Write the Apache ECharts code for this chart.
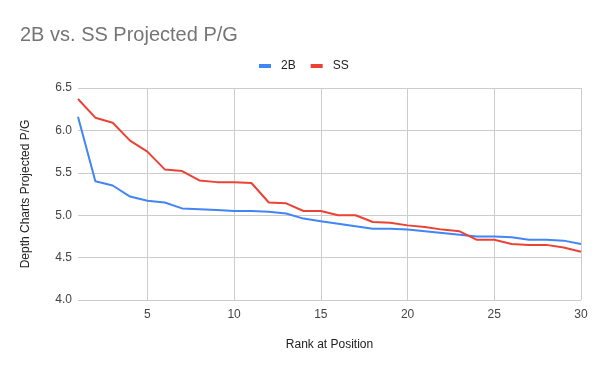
<!DOCTYPE html>
<html>
<head>
<meta charset="utf-8">
<script src="https://cdn.jsdelivr.net/npm/echarts@6/dist/echarts.min.js"></script>
<style>
html,body{margin:0;padding:0;background:#fff;}
#chart{width:600px;height:371px;}
</style>
</head>
<body>
<div id="chart"></div>
<script>
var ranks = [1,2,3,4,5,6,7,8,9,10,11,12,13,14,15,16,17,18,19,20,21,22,23,24,25,26,27,28,29,30];
var series2B = [6.16, 5.40, 5.35, 5.22, 5.17, 5.15, 5.08, 5.07, 5.06, 5.05, 5.05, 5.04, 5.02, 4.96, 4.93, 4.90, 4.87, 4.84, 4.84, 4.83, 4.81, 4.79, 4.77, 4.75, 4.75, 4.74, 4.71, 4.71, 4.70, 4.66];
var seriesSS = [6.37, 6.15, 6.09, 5.88, 5.75, 5.54, 5.52, 5.41, 5.39, 5.39, 5.38, 5.15, 5.14, 5.05, 5.05, 5.00, 5.00, 4.92, 4.91, 4.88, 4.86, 4.83, 4.81, 4.71, 4.71, 4.66, 4.65, 4.65, 4.62, 4.57];
var yTicks = [4.0, 4.5, 5.0, 5.5, 6.0, 6.5];

var chart = echarts.init(document.getElementById('chart'), null, {renderer: 'canvas'});
var font = '"Liberation Sans", Arial, sans-serif';
chart.setOption({
  animation: false,
  backgroundColor: '#ffffff',
  title: {
    text: '2B vs. SS Projected P/G',
    left: 15, top: 20,
    textStyle: {fontFamily: font, fontSize: 20, fontWeight: 'normal', color: '#757575'}
  },
  legend: {
    left: 254, top: 55,
    itemWidth: 12, itemHeight: 4, itemGap: 15,
    icon: 'rect',
    textStyle: {fontFamily: font, fontSize: 12, color: '#222', padding: [0, 0, 0, 5]},
    data: ['2B', 'SS']
  },
  grid: {left: 78, right: 19, top: 88, bottom: 71},
  xAxis: {
    type: 'category',
    data: ranks,
    boundaryGap: false,
    name: 'Rank at Position',
    nameLocation: 'middle',
    nameGap: 39,
    nameTextStyle: {fontFamily: font, fontSize: 12, color: '#222'},
    axisLine: {show: false},
    axisTick: {show: false},
    axisLabel: {
      fontFamily: font, fontSize: 12, color: '#444', margin: 9,
      interval: function (i) { return (i + 1) % 5 === 0; }
    },
    splitLine: {
      show: true,
      interval: function (i) { return (i + 1) % 5 === 0; },
      lineStyle: {color: '#cccccc', width: 1}
    }
  },
  yAxis: {
    type: 'value',
    min: yTicks[0], max: yTicks[yTicks.length - 1], interval: 0.5,
    name: 'Depth Charts Projected P/G',
    nameLocation: 'middle',
    nameGap: 46,
    nameTextStyle: {fontFamily: font, fontSize: 12, color: '#222'},
    axisLine: {show: false},
    axisTick: {show: false},
    axisLabel: {
      fontFamily: font, fontSize: 12, color: '#444', margin: 6,
      formatter: function (v) { return v.toFixed(1); }
    },
    splitLine: {show: true, lineStyle: {color: '#cccccc', width: 1}}
  },
  series: [
    {name: '2B', type: 'line', data: series2B, showSymbol: false, symbol: 'none',
     lineStyle: {color: '#4285f4', width: 2}, itemStyle: {color: '#4285f4'}},
    {name: 'SS', type: 'line', data: seriesSS, showSymbol: false, symbol: 'none',
     lineStyle: {color: '#ea4335', width: 2}, itemStyle: {color: '#ea4335'}}
  ]
});
</script>
</body>
</html>
